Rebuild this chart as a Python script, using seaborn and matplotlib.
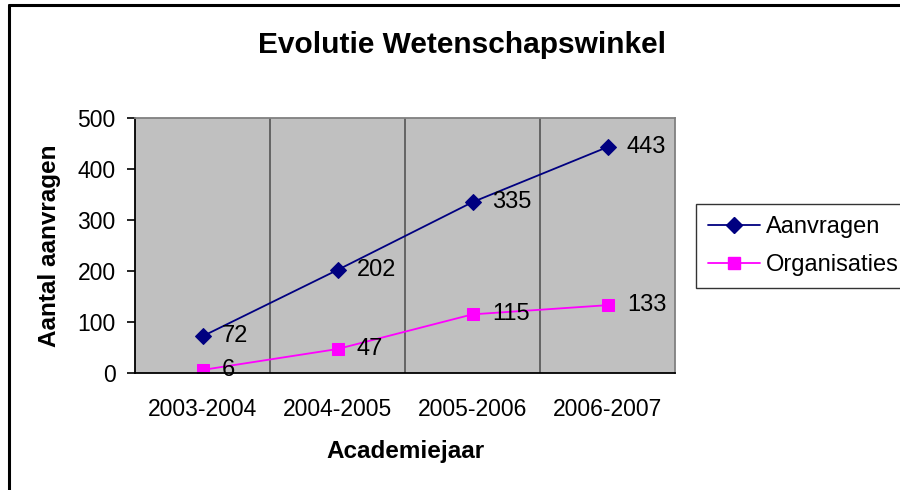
import matplotlib
matplotlib.use("Agg")
import matplotlib.pyplot as plt
import seaborn as sns
import pandas as pd
from matplotlib.lines import Line2D

years = ["2003-2004", "2004-2005", "2005-2006", "2006-2007"]
aanvragen = [72, 202, 335, 443]
organisaties = [6, 47, 115, 133]
series_names = ["Aanvragen", "Organisaties"]
yticks = [0, 100, 200, 300, 400, 500]

sns.set_theme(style="white")
plt.rcParams['font.family'] = ['Liberation Sans', 'DejaVu Sans']
plt.rcParams['text.color'] = 'black'
plt.rcParams['axes.labelcolor'] = 'black'
plt.rcParams['xtick.color'] = 'black'
plt.rcParams['ytick.color'] = 'black'

fig = plt.figure(figsize=(9, 4.9), dpi=100)
ax = fig.add_axes([135/900, 1-373/490, 540/900, 255/490])
ax.set_facecolor("#C0C0C0")

df = pd.DataFrame({"x": list(range(len(years))) * 2,
                   "y": aanvragen + organisaties,
                   "s": [series_names[0]] * 4 + [series_names[1]] * 4})

colors = {"Aanvragen": "#000080", "Organisaties": "#FF00FF"}
markers = {"Aanvragen": "D", "Organisaties": "s"}
msize = {"Aanvragen": 8, "Organisaties": 9}
for name in series_names:
    sub = df[df.s == name]
    sns.lineplot(data=sub, x="x", y="y", ax=ax, color=colors[name], lw=1.3,
                 marker=markers[name], markersize=msize[name],
                 markeredgecolor=colors[name], legend=False)
    for xi, yi in zip(sub.x, sub.y):
        ax.annotate(str(yi), (xi, yi), xytext=(14, 0), textcoords="offset points",
                    va="center", ha="left", fontsize=17, color="black")

ax.set_xlim(-0.5, len(years) - 0.5)
ax.set_ylim(0, 500)
ax.set_yticks(yticks)
ax.set_yticklabels([str(t) for t in yticks], fontsize=16.5)
ax.set_xticks(range(len(years)))
ax.set_xticklabels(years, fontsize=16.5)
ax.tick_params(axis="x", which="major", length=0, pad=18)
ax.set_xticks([i - 0.5 for i in range(len(years) + 1)], minor=True)
ax.tick_params(axis="x", which="minor", length=6, width=1.2, color="black", direction="out")
ax.tick_params(axis="y", which="major", length=6, width=1.2, color="black", direction="out", left=True, pad=8)

for b in [0.5, 1.5, 2.5]:
    ax.axvline(b, color="#555555", lw=1.2, zorder=0.5)

for side in ["left", "bottom"]:
    ax.spines[side].set_color("black")
    ax.spines[side].set_linewidth(1.3)
for side in ["top", "right"]:
    ax.spines[side].set_color("#808080")
    ax.spines[side].set_linewidth(1.3)

ax.set_xlabel("Academiejaar", fontsize=17.5, fontweight="bold", labelpad=14)
ax.set_ylabel("Aantal aanvragen", fontsize=17.5, fontweight="bold", labelpad=12)
fig.text(462/900, 1-45/490, "Evolutie Wetenschapswinkel", ha="center", va="center",
         fontsize=21.5, fontweight="bold")

handles = [Line2D([], [], color=colors[n], marker=markers[n], markersize=msize[n], lw=1.3)
           for n in series_names]
leg = fig.legend(handles, series_names, loc="upper left",
                 bbox_to_anchor=(696/900, 1-204/490), fontsize=17, frameon=True,
                 fancybox=False, edgecolor="black", handlelength=2.2, handletextpad=0.25,
                 borderpad=0.5, labelspacing=0.68, borderaxespad=0)
leg.get_frame().set_linewidth(1.0)

fig.add_artist(Line2D([9/900, 9/900], [0, 1-5/490], color="black", lw=2.2, transform=fig.transFigure))
fig.add_artist(Line2D([9/900, 1], [1-5/490, 1-5/490], color="black", lw=2.2, transform=fig.transFigure))

fig.savefig("out.png", dpi=100)
